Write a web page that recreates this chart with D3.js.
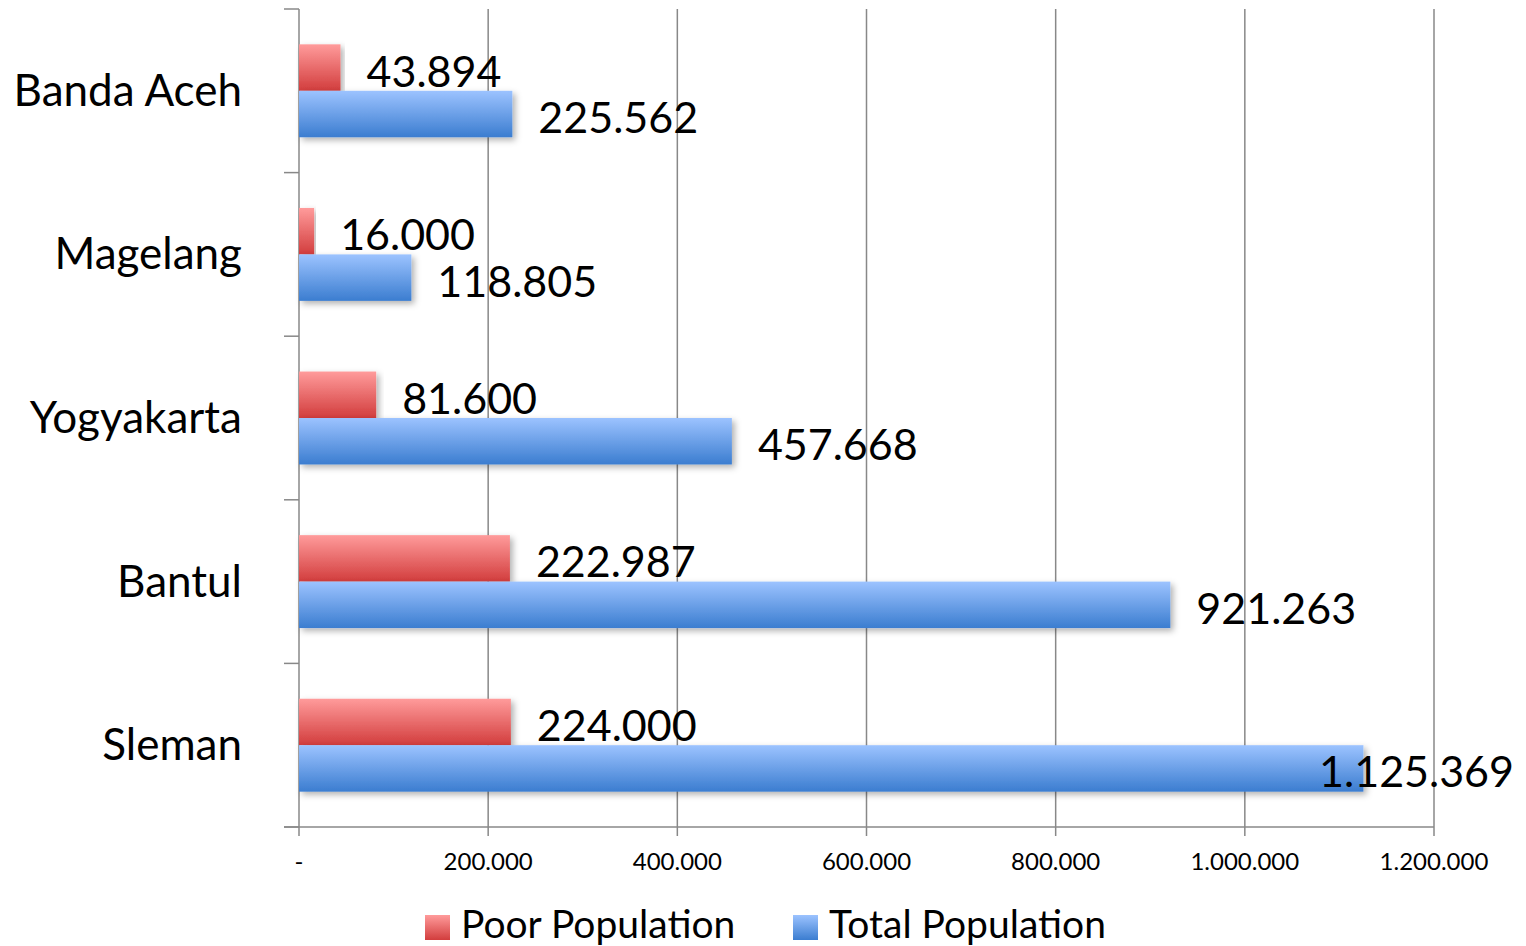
<!DOCTYPE html>
<html><head><meta charset="utf-8">
<script src="https://cdn.jsdelivr.net/npm/d3@7"></script>
<style>body{margin:0;background:#fff}svg{display:block}text{font-family:Lato,"Open Sans",sans-serif;fill:#000}</style>
</head><body><svg id="c" width="1526" height="946"></svg>
<script>
const categories = ["Banda Aceh","Magelang","Yogyakarta","Bantul","Sleman"];
const poor = [43894,16000,81600,222987,224000];
const total = [225562,118805,457668,921263,1125369];
const seriesNames = ["Poor Population","Total Population"];
const ticks = [0,200000,400000,600000,800000,1000000,1200000];
const tickLabels = ["-","200.000","400.000","600.000","800.000","1.000.000","1.200.000"];

const svg = d3.select("#c");
const L=299,R=1434,T=9,B=827;
const x = d3.scaleLinear().domain([0,1200000]).range([L,R]);
const y = d3.scaleBand().domain(categories).range([T,B]).paddingInner(0.432).paddingOuter(0.216);
const fmt = v => v.toString().replace(/\B(?=(\d{3})+(?!\d))/g,".");

const defs = svg.append("defs");
function grad(id,c1,c2){const g=defs.append("linearGradient").attr("id",id).attr("x1",0).attr("y1",0).attr("x2",0).attr("y2",1);
 g.append("stop").attr("offset","0%").attr("stop-color",c1);g.append("stop").attr("offset","100%").attr("stop-color",c2);}
grad("gr","#ff9b9b","#d23d3d");grad("gb","#9cc3ff","#3b7dd0");
const f=defs.append("filter").attr("id","sh").attr("x","-5%").attr("y","-30%").attr("width","115%").attr("height","170%");
f.append("feDropShadow").attr("dx",3).attr("dy",3).attr("stdDeviation",3).attr("flood-color","#000").attr("flood-opacity",0.3);

// grid
svg.append("g").selectAll("line").data(ticks.slice(1)).join("line")
 .attr("x1",d=>x(d)).attr("x2",d=>x(d)).attr("y1",T).attr("y2",B+9)
 .attr("stroke","#888").attr("stroke-width",1.5);
// axes
svg.append("line").attr("x1",L).attr("x2",L).attr("y1",T).attr("y2",B+9).attr("stroke","#888").attr("stroke-width",1.5);
svg.append("line").attr("x1",L-15).attr("x2",R).attr("y1",B).attr("y2",B).attr("stroke","#888").attr("stroke-width",1.5);
const sep = d3.range(categories.length+1).map(i=>T+(B-T)*i/categories.length);
svg.append("g").selectAll("line").data(sep).join("line")
 .attr("x1",L-15).attr("x2",L).attr("y1",d=>d).attr("y2",d=>d).attr("stroke","#888").attr("stroke-width",1.5);

// x tick labels
svg.append("g").selectAll("text").data(ticks).join("text")
 .attr("x",d=>x(d)).attr("y",870).attr("text-anchor","middle").style("font-size","24px")
 .text((d,i)=>tickLabels[i]);
// category labels
svg.append("g").selectAll("text").data(categories).join("text")
 .attr("x",242).attr("y",d=>y(d)+y.bandwidth()/2+15).attr("text-anchor","end").style("font-size","44px")
 .text(d=>d);

const bh = y.bandwidth()/2;
const sets=[{vals:poor,fill:"url(#gr)",off:0},{vals:total,fill:"url(#gb)",off:bh}];
sets.forEach(s=>{
 svg.append("g").selectAll("rect").data(categories).join("rect")
  .attr("x",L).attr("y",d=>y(d)+s.off).attr("width",(d,i)=>x(s.vals[i])-L).attr("height",bh)
  .attr("fill",s.fill).attr("filter","url(#sh)");
});
sets.forEach(s=>{
 svg.append("g").selectAll("text").data(categories).join("text")
  .style("font-size","43px")
  .attr("y",d=>y(d)+s.off+bh/2+19)
  .text((d,i)=>fmt(s.vals[i]))
  .each(function(d,i){const t=d3.select(this);let xx=x(s.vals[i])+26;const w=this.getComputedTextLength();
    if(xx+w>1514){t.attr("x",1514).attr("text-anchor","end");}else t.attr("x",xx);});
});

// legend
const leg=[{n:seriesNames[0],f:"url(#gr)",x:425},{n:seriesNames[1],f:"url(#gb)",x:793}];
leg.forEach(l=>{
 svg.append("rect").attr("x",l.x).attr("y",915).attr("width",25).attr("height",25).attr("fill",l.f);
 svg.append("text").attr("x",l.x+36).attr("y",938).style("font-size","39px").text(l.n);
});
</script></body></html>
